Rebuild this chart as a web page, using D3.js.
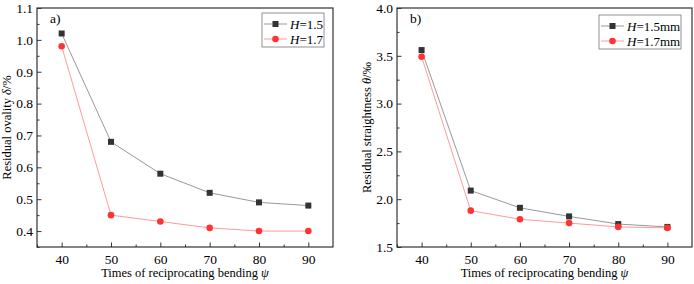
<!DOCTYPE html>
<html>
<head>
<meta charset="utf-8">
<script src="https://cdn.jsdelivr.net/npm/d3@7"></script>
<style>
body { margin: 0; background: #fff; }
svg { font-family: "Liberation Serif", "Times New Roman", serif; }
</style>
</head>
<body>
<svg id="chart" width="694" height="284"></svg>
<script>
// bending times
let times = [40, 50, 60, 70, 80, 90];

// panel a) residual ovality
let ovalityH15 = [1.02, 0.68, 0.58, 0.52, 0.49, 0.48];
let ovalityH17 = [0.98, 0.45, 0.43, 0.41, 0.40, 0.40];

// panel b) residual straightness
let straightH15 = [3.56, 2.09, 1.91, 1.82, 1.74, 1.71];
let straightH17 = [3.49, 1.88, 1.79, 1.75, 1.71, 1.70];

let xTicks = [40, 50, 60, 70, 80, 90];
let ovalityTicks = [0.4, 0.5, 0.6, 0.7, 0.8, 0.9, 1.0, 1.1];
let straightTicks = [1.5, 2.0, 2.5, 3.0, 3.5, 4.0];

let svg = d3.select("#chart");

function drawPanel(opt) {
    let g = svg.append("g").attr("transform", "translate(" + opt.left + "," + opt.top + ")");
    let w = opt.width, h = opt.height;

    let x = d3.scaleLinear().domain([35, 95]).range([0, w]);
    let y = d3.scaleLinear().domain(opt.yDomain).range([h, 0]);

    // minor ticks
    let xMinor = xTicks.map(function(d) { return d + 5; }).filter(function(d) { return d < 95; });
    xMinor.unshift(35);
    let step = opt.yTicks[1] - opt.yTicks[0];
    let yMinor = [];
    for (let i = 0; i < opt.yTicks.length; i++) {
        let v = opt.yTicks[i] + step / 2;
        if (v < opt.yDomain[1]) yMinor.push(v);
    }
    if (opt.yTicks[0] - step / 2 >= opt.yDomain[0] - 1e-9) yMinor.push(opt.yTicks[0] - step / 2);

    g.append("g").attr("transform", "translate(0," + h + ")")
        .call(d3.axisBottom(x).tickValues(xMinor).tickSize(-2.5).tickFormat(""))
        .call(function(s) { s.select(".domain").remove(); });
    g.append("g")
        .call(d3.axisLeft(y).tickValues(yMinor).tickSize(-2.5).tickFormat(""))
        .call(function(s) { s.select(".domain").remove(); });

    let xAxis = g.append("g").attr("transform", "translate(0," + h + ")")
        .call(d3.axisBottom(x).tickValues(xTicks).tickSize(-4.5).tickPadding(7).tickFormat(d3.format("d")));
    xAxis.select(".domain").remove();
    let yAxis = g.append("g")
        .call(d3.axisLeft(y).tickValues(opt.yTicks).tickSize(-4.5).tickPadding(4).tickFormat(d3.format(".1f")));
    yAxis.select(".domain").remove();

    g.selectAll(".tick line").attr("stroke", "#333");
    g.selectAll(".tick text").attr("fill", "#000").style("font-size", "13.5px")
        .style("font-family", "Liberation Serif, serif");

    // frame
    g.append("rect").attr("width", w).attr("height", h)
        .attr("fill", "none").attr("stroke", "#333").attr("stroke-width", 1.2);

    let line = d3.line()
        .x(function(d, i) { return x(times[i]); })
        .y(function(d) { return y(d); });

    g.append("path").attr("d", line(opt.s1)).attr("fill", "none")
        .attr("stroke", "#999").attr("stroke-width", 1);
    g.append("path").attr("d", line(opt.s2)).attr("fill", "none")
        .attr("stroke", "#ff9a9a").attr("stroke-width", 1);

    g.selectAll(".sq").data(opt.s1).enter().append("rect")
        .attr("x", function(d, i) { return x(times[i]) - 3; })
        .attr("y", function(d) { return y(d) - 3; })
        .attr("width", 6).attr("height", 6).attr("fill", "#333");
    g.selectAll(".ci").data(opt.s2).enter().append("circle")
        .attr("cx", function(d, i) { return x(times[i]); })
        .attr("cy", function(d) { return y(d); })
        .attr("r", 3.3).attr("fill", "#ff3333");

    // panel label
    g.append("text").attr("x", opt.tagX).attr("y", 15)
        .style("font-size", "13.5px").attr("fill", "#000").text(opt.tag);

    // legend
    let lg = g.append("g").attr("transform", "translate(" + opt.legX + "," + opt.legY + ")");
    lg.append("rect").attr("width", opt.legW).attr("height", 34)
        .attr("fill", "#fff").attr("stroke", "#777").attr("stroke-width", 0.8);
    let rows = [
        {c: "#999", m: "#333", sq: true, label: opt.labels[0], yy: 11},
        {c: "#ff9a9a", m: "#ff3333", sq: false, label: opt.labels[1], yy: 26}
    ];
    rows.forEach(function(r) {
        lg.append("line").attr("x1", 2).attr("x2", 25).attr("y1", r.yy).attr("y2", r.yy)
            .attr("stroke", r.c).attr("stroke-width", 1);
        if (r.sq) {
            lg.append("rect").attr("x", 10.5).attr("y", r.yy - 3).attr("width", 6).attr("height", 6).attr("fill", r.m);
        } else {
            lg.append("circle").attr("cx", 13.5).attr("cy", r.yy).attr("r", 3.3).attr("fill", r.m);
        }
        let t = lg.append("text").attr("x", 28).attr("y", r.yy + 4.5).style("font-size", "13px").attr("fill", "#000");
        t.append("tspan").style("font-style", "italic").text("H");
        t.append("tspan").text(r.label);
    });

    // axis titles
    let xt = g.append("text").attr("x", w / 2).attr("y", h + 30)
        .attr("text-anchor", "middle").style("font-size", "12.5px").attr("fill", "#000");
    xt.append("tspan").text("Times of reciprocating bending ");
    xt.append("tspan").style("font-style", "italic").text("ψ");

    let yt = g.append("text").attr("transform", "rotate(-90)")
        .attr("x", -h / 2).attr("y", opt.yTitleX)
        .attr("text-anchor", "middle").style("font-size", "12.5px").attr("fill", "#000");
    yt.append("tspan").text(opt.yTitle[0]);
    yt.append("tspan").style("font-style", "italic").text(opt.yTitle[1]);
    yt.append("tspan").text(opt.yTitle[2]);
}

drawPanel({
    left: 37, top: 8, width: 296, height: 239,
    yDomain: [0.35, 1.1], yTicks: ovalityTicks,
    s1: ovalityH15, s2: ovalityH17,
    tag: "a)", tagX: 13,
    legX: 225, legY: 5, legW: 62,
    labels: ["=1.5", "=1.7"],
    yTitle: ["Residual ovality ", "δ", "/%"], yTitleX: -26
});

drawPanel({
    left: 397, top: 8, width: 295, height: 239,
    yDomain: [1.5, 4.0], yTicks: straightTicks,
    s1: straightH15, s2: straightH17,
    tag: "b)", tagX: 13,
    legX: 202, legY: 7, legW: 82,
    labels: ["=1.5mm", "=1.7mm"],
    yTitle: ["Residual straightness ", "θ", "/‰"], yTitleX: -26
});
</script>
</body>
</html>
